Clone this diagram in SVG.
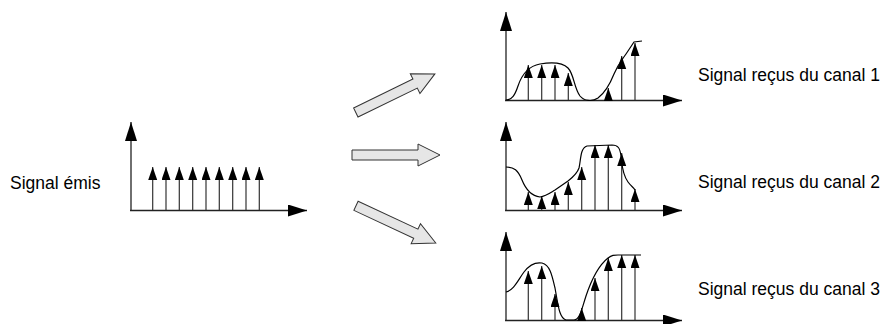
<svg xmlns="http://www.w3.org/2000/svg" width="893" height="324" viewBox="0 0 893 324">
<defs>
<style>
.ax{stroke:#222;stroke-width:1.3;fill:none;marker-end:url(#axh)}
.st{stroke:#333;stroke-width:1.2;fill:none;marker-end:url(#imp)}
.cv{stroke:#000;stroke-width:1.2;fill:none}
.lbl{font-family:"Liberation Sans",Arial,sans-serif;font-size:17.5px;fill:#000}
.blk{fill:#e6e6e6;stroke:#333;stroke-width:1}
</style>
<marker id="axh" markerUnits="userSpaceOnUse" markerWidth="20" markerHeight="13" refX="19" refY="6" orient="auto" viewBox="0 0 20 13">
<path d="M0,0 L19,6 L0,12 Z" fill="#000"/>
</marker>
<marker id="imp" markerUnits="userSpaceOnUse" markerWidth="14" markerHeight="10" refX="13" refY="4.5" orient="auto" viewBox="0 0 14 10">
<path d="M0,0 L13,4.5 L0,9 Z" fill="#000"/>
</marker>
<path id="blockarrow" d="M0,-5 H66 V-11 L88,0 L66,11 V5 H0 Z"/>
</defs>

<g id="emitted">
<text class="lbl" x="10" y="189">Signal émis</text>
<path class="ax" d="M131,211 V122"/>
<path class="ax" d="M130,210.5 H307"/>
<path class="st" d="M152.7,210 V167"/>
<path class="st" d="M166,210 V167"/>
<path class="st" d="M179.3,210 V167"/>
<path class="st" d="M192.7,210 V167"/>
<path class="st" d="M206,210 V167"/>
<path class="st" d="M219.3,210 V167"/>
<path class="st" d="M232.7,210 V167"/>
<path class="st" d="M246,210 V167"/>
<path class="st" d="M259.3,210 V167"/>
</g>

<g id="arrows">
<use href="#blockarrow" class="blk" transform="translate(355.8,112.5) rotate(-26)"/>
<use href="#blockarrow" class="blk" transform="translate(352,155)"/>
<use href="#blockarrow" class="blk" transform="translate(356,205.8) rotate(25)"/>
</g>

<g id="canal1">
<path class="ax" d="M506,101 V12"/>
<path class="ax" d="M505,100.5 H682"/>
<path class="st" d="M528.3,100 V65"/>
<path class="st" d="M541.7,100 V65"/>
<path class="st" d="M555,100 V65"/>
<path class="st" d="M568.3,100 V73"/>
<path class="st" d="M608.3,100 V88"/>
<path class="st" d="M621.7,100 V56"/>
<path class="st" d="M635,100 V43"/>
<path class="cv" d="M506,100 C512,100 515,95 518,86 C522,74 528,66 540,64 C552,62 562,62 568,68 C574,74 574,88 580,96 C584,101 592,102 598,98 C606,92 610,84 614,74 C618,64 622,60 626,54 L634,42 L642,41"/>
<text class="lbl" x="698" y="81">Signal reçus du canal 1</text>
</g>

<g id="canal2">
<path class="ax" d="M506,211 V122"/>
<path class="ax" d="M505,210.5 H682"/>
<path class="st" d="M528.3,210 V192"/>
<path class="st" d="M541.7,210 V196"/>
<path class="st" d="M555,210 V192"/>
<path class="st" d="M568.3,210 V182"/>
<path class="st" d="M581.7,210 V167"/>
<path class="st" d="M595,210 V145"/>
<path class="st" d="M608.3,210 V145"/>
<path class="st" d="M621.7,210 V153"/>
<path class="st" d="M635,210 V189"/>
<path class="cv" d="M506,167 C514,167 518,170 522,180 C526,190 532,196 540,197 C546,196 550,193 555,190 L568,181 C573,177 577,174 579,168 C581,160 580,148 587,146 L612,145 C618,145 620,148 621,156 C622,164 622,174 628,182 C631,186 634,188 635,190"/>
<text class="lbl" x="698" y="188">Signal reçus du canal 2</text>
</g>

<g id="canal3">
<path class="ax" d="M506,321 V232"/>
<path class="ax" d="M505,320.5 H682"/>
<path class="st" d="M528.3,320 V271"/>
<path class="st" d="M541.7,320 V266"/>
<path class="st" d="M555,320 V294"/>
<path class="st" d="M581.7,320 V308"/>
<path class="st" d="M595,320 V278"/>
<path class="st" d="M608.3,320 V258"/>
<path class="st" d="M621.7,320 V255"/>
<path class="st" d="M635,320 V255"/>
<path class="cv" d="M506,292 C514,290 518,280 524,272 C530,264 536,262 542,263 C550,265 552,275 555,288 C558,304 559,318 566,320 L574,320 C580,320 582,308 586,296 C592,278 598,266 608,258 C612,255 614,255 618,255 L641,255"/>
<text class="lbl" x="698" y="295">Signal reçus du canal 3</text>
</g>
</svg>
